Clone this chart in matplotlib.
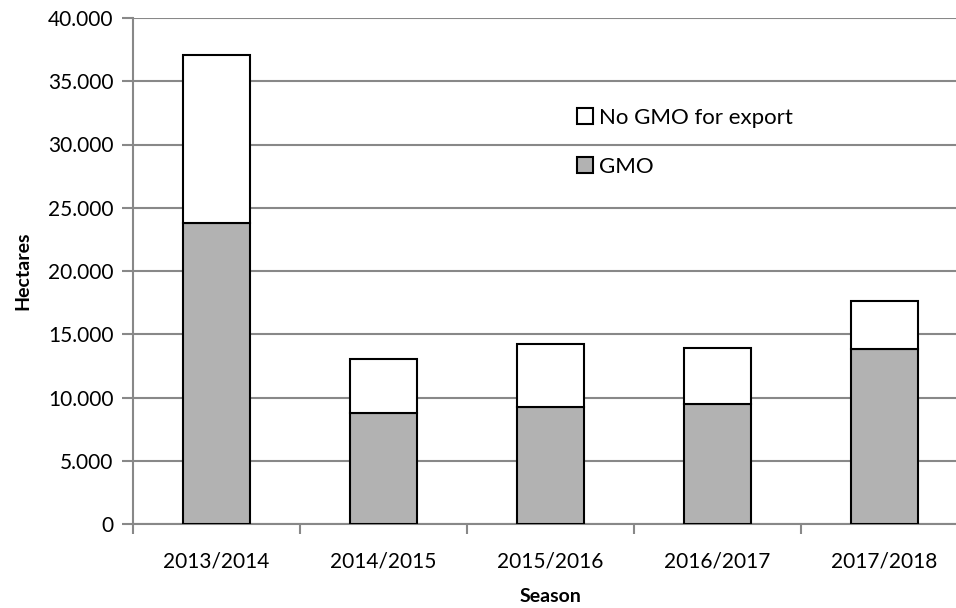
import matplotlib.pyplot as plt
import numpy as np

plt.rcParams['font.family'] = ['Lato', 'DejaVu Sans']

seasons = ['2013/2014', '2014/2015', '2015/2016', '2016/2017', '2017/2018']
gmo = [23800, 8800, 9250, 9500, 13800]
total = [37100, 13050, 14200, 13950, 17650]
no_gmo = [t - g for t, g in zip(total, gmo)]
yticks = np.arange(0, 40001, 5000)
ytick_labels = ['0' if v == 0 else f'{v // 1000}.000' for v in yticks]

fig = plt.figure(figsize=(9.56, 6.08), dpi=100)
ax = fig.add_axes([133 / 956, 1 - 524 / 608, (968 - 133) / 956, (524 - 18) / 608])

x = np.arange(len(seasons))
b1 = ax.bar(x, gmo, width=0.4, color='#b2b2b2', edgecolor='black', linewidth=1.5, zorder=3)
b2 = ax.bar(x, no_gmo, width=0.4, bottom=gmo, color='white', edgecolor='black', linewidth=1.5, zorder=3)

ax.set_xlim(-0.5, len(seasons) - 0.5)
ax.set_ylim(0, 40000)
ax.set_yticks(yticks)
ax.set_yticklabels(ytick_labels, fontsize=15)
ax.set_xticks(x)
ax.set_xticklabels(seasons, fontsize=15)
ax.set_xticks(np.arange(-0.5, len(seasons)), minor=True)
ax.tick_params(axis='x', which='major', length=0, pad=20)
ax.tick_params(axis='x', which='minor', length=7, color='#888888', width=1.5)
ax.tick_params(axis='y', length=8, color='#888888', width=1.5, pad=6)
ax.yaxis.grid(True, color='#888888', linewidth=1.5, zorder=0)
ax.set_axisbelow(True)
for s in ['top', 'right']:
    ax.spines[s].set_visible(False)
for s in ['left', 'bottom']:
    ax.spines[s].set_color('#888888')
    ax.spines[s].set_linewidth(1.5)

ax.set_ylabel('Hectares', fontsize=14, fontweight='bold', labelpad=12)
ax.set_xlabel('Season', fontsize=14, fontweight='bold', labelpad=12)

leg = fig.legend([b2, b1], ['No GMO for export', 'GMO'], loc='upper left',
                 bbox_to_anchor=(557 / 956, 1 - 88 / 608), frameon=False, fontsize=16,
                 handlelength=0.7, handleheight=0.7, handletextpad=0.3, labelspacing=1.3)

fig.savefig('out.png', dpi=100)
